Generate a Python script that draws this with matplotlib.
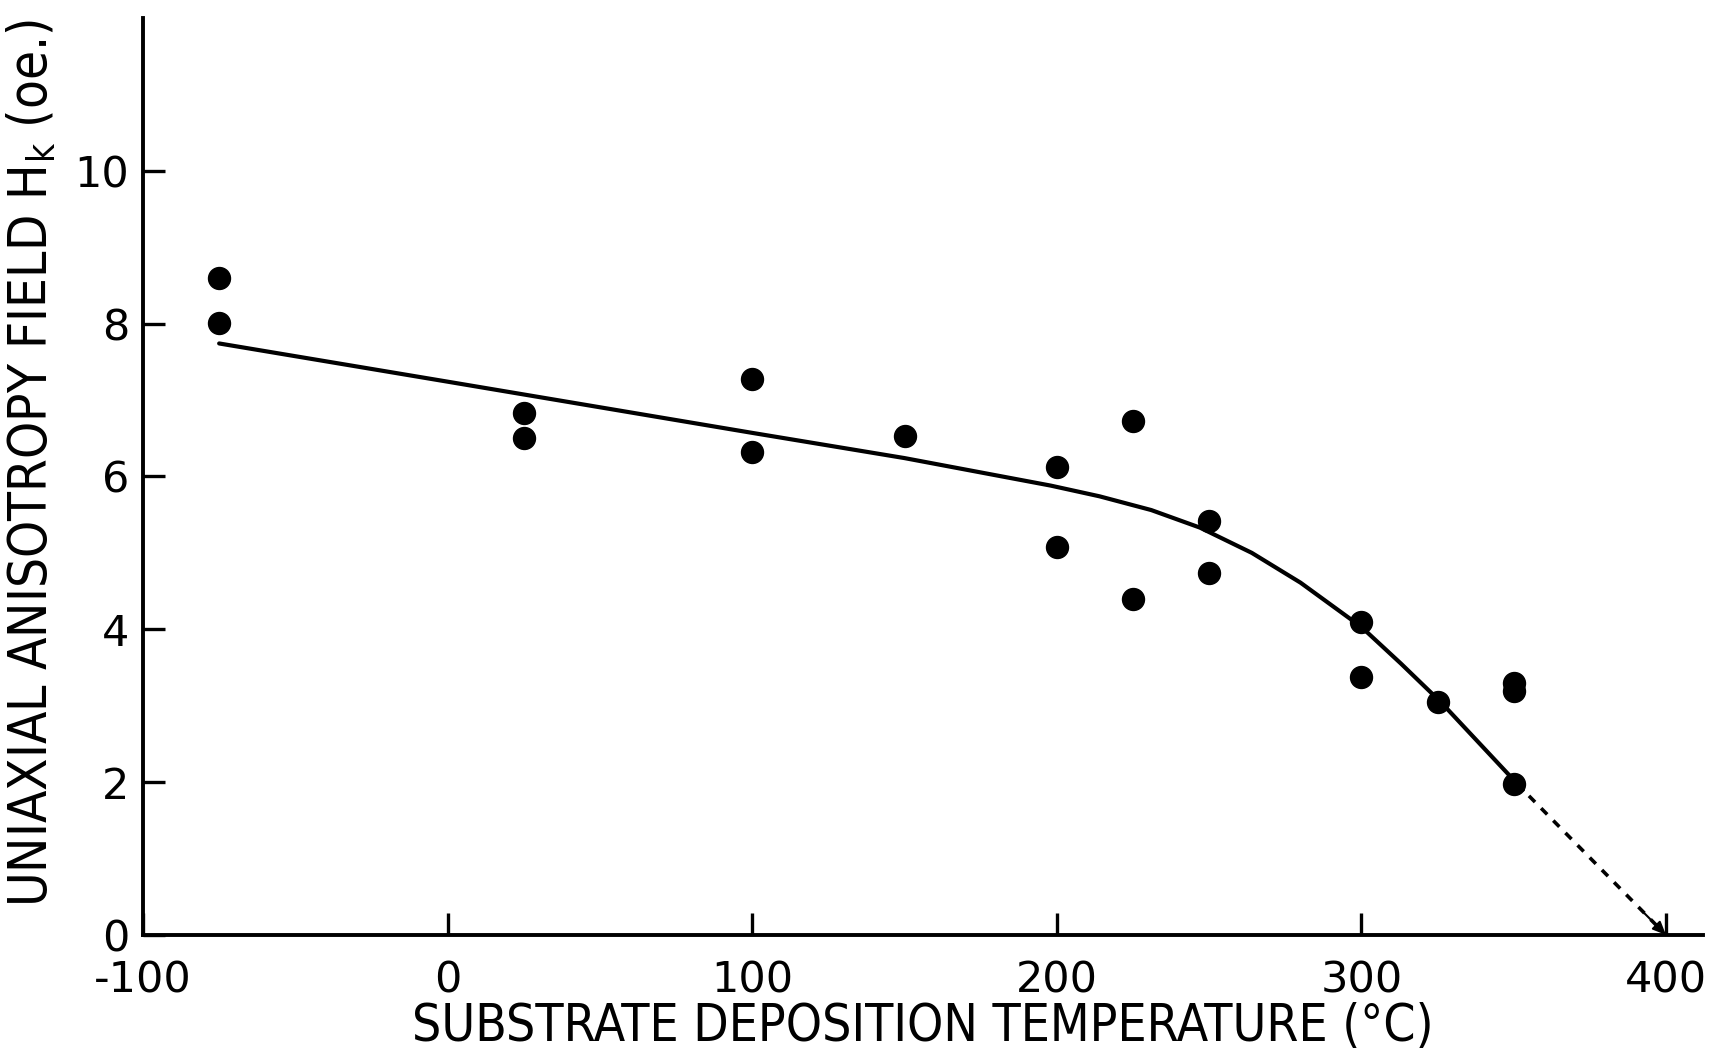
import matplotlib
matplotlib.use("Agg")
import matplotlib.pyplot as plt

# measured data points
temp_pts = [-75, -75, 25, 25, 100, 100, 150, 200, 200, 225, 225, 250, 250,
            300, 300, 325, 350, 350, 350]
hk_pts = [8.59, 8.01, 6.83, 6.50, 7.27, 6.32, 6.53, 6.12, 5.08, 6.72, 4.39,
          5.42, 4.73, 4.10, 3.37, 3.05, 3.30, 3.19, 1.97]

# drawn trend curve
curve_t = [-75, 0, 100, 150, 182, 198, 214, 231, 247, 264, 280, 300, 313,
           326, 353]
curve_h = [7.74, 7.24, 6.57, 6.24, 6.00, 5.88, 5.74, 5.56, 5.33, 5.00, 4.61,
           4.03, 3.55, 3.05, 1.90]

# dashed extrapolation
extrap_t = [355, 400]
extrap_h = [1.82, 0.0]

xticks = [-100, 0, 100, 200, 300, 400]
yticks = [0, 2, 4, 6, 8, 10]

plt.rcParams['font.family'] = ['DejaVu Sans']
fig = plt.figure(figsize=(17.25, 10.53), dpi=100)
ax = fig.add_axes([0.0829, 0.1121, 0.9041, 0.8709])

ax.plot(curve_t, curve_h, color='black', lw=3.0, solid_capstyle='round',
        solid_joinstyle='round')
ax.plot(extrap_t[:1] + [397], [extrap_h[0], 0.12], color='black', lw=2.6,
        dashes=(2.4, 2.4))
ax.annotate('', xy=(extrap_t[1], extrap_h[1]), xytext=(393, 0.28),
            arrowprops=dict(arrowstyle='-|>,head_length=0.8,head_width=0.35',
                            color='black', lw=1.5, shrinkA=0, shrinkB=0))
ax.scatter(temp_pts, hk_pts, s=250, color='black', zorder=3)

ax.set_xlim(-100, 412)
ax.set_ylim(0, 12)
for s in ['top', 'right']:
    ax.spines[s].set_visible(False)
for s in ['left', 'bottom']:
    ax.spines[s].set_linewidth(2.8)

ax.set_xticks(xticks)
ax.set_yticks(yticks)
ax.set_xticklabels([str(t) for t in xticks])
ax.set_yticklabels([str(t) for t in yticks])
ax.tick_params(direction='in', length=16, width=2.4, labelsize=31)
ax.tick_params(axis='x', pad=18)
ax.tick_params(axis='y', pad=10)

ax.set_xlabel('SUBSTRATE DEPOSITION TEMPERATURE (°C)', fontsize=37,
              fontstretch='condensed', labelpad=0)
ax.set_ylabel(r'UNIAXIAL ANISOTROPY FIELD H$_{\mathregular{k}}$ (oe.)',
              fontsize=38, fontstretch='condensed')
ax.yaxis.set_label_coords(-0.054, 0.515)

fig.savefig('out.png', dpi=100, facecolor='white')
